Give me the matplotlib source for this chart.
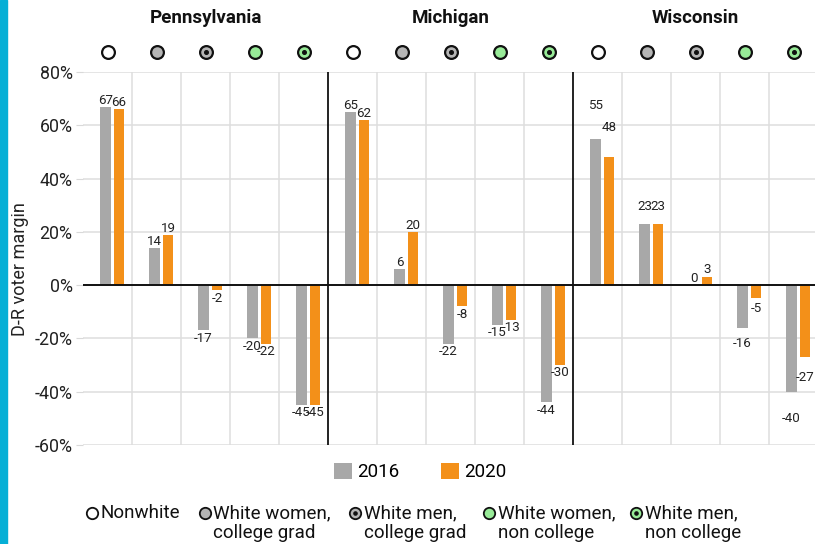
import matplotlib
matplotlib.use("Agg")
import matplotlib.pyplot as plt
import numpy as np
from matplotlib.patches import Rectangle

plt.rcParams['font.family'] = ['Roboto', 'DejaVu Sans']

# ---------------- data ----------------
states = ["Pennsylvania", "Michigan", "Wisconsin"]
groups = ["Nonwhite", "White women,\ncollege grad", "White men,\ncollege grad",
          "White women,\nnon college", "White men,\nnon college"]
years = ["2016", "2020"]
pa_2016 = [67, 14, -17, -20, -45]
pa_2020 = [66, 19, -2, -22, -45]
mi_2016 = [65, 6, -22, -15, -44]
mi_2020 = [62, 20, -8, -13, -30]
wi_2016 = [55, 23, 0, -16, -40]
wi_2020 = [48, 23, 3, -5, -27]
yticks = [-60, -40, -20, 0, 20, 40, 60, 80]

# ---------------- styles ----------------
c2016 = "#a8a8a8"
c2020 = "#f39019"
group_fill = ["white", "#b5b5b5", "#b5b5b5", "#98eb98", "#98eb98"]
group_dot = [False, False, True, False, True]
label_scale = [1.0, 1.0, 1.18]   # label anchor stretch per state panel

W, H = 815, 544
fig = plt.figure(figsize=(W / 100, H / 100), dpi=100)
L, R, T, B = 83, 818, 72, 445
ax = fig.add_axes([L / W, 1 - B / H, (R - L) / W, (B - T) / H])

v2016 = pa_2016 + mi_2016 + wi_2016
v2020 = pa_2020 + mi_2020 + wi_2020
n = len(v2016)
x = np.arange(n)
bw = 0.21
xg = x - 0.04
xo = x + 0.235
b1 = ax.bar(xg, v2016, width=bw, color=c2016, zorder=3, label=years[0])
b2 = ax.bar(xo, v2020, width=bw, color=c2020, zorder=3, label=years[1])

ax.set_xlim(-0.5, n - 0.5)
ax.set_ylim(-60, 80)
ax.set_yticks(yticks)
ax.set_yticklabels([f"{t}%" for t in yticks], fontsize=12.8, color="#222222")
ax.set_xticks([])
ax.tick_params(axis="y", length=5, color="#d9d9d9", pad=2.5)
for s in ax.spines.values():
    s.set_visible(False)

# grid
for t in yticks:
    ax.axhline(t, color="#dedede", lw=1.1, zorder=1)
for b in np.arange(0.5, n - 0.5, 1.0):
    if abs(b - 4.5) < 1e-6 or abs(b - 9.5) < 1e-6:
        ax.axvline(b, color="#111111", lw=1.3, zorder=4)
    else:
        ax.axvline(b, color="#dedede", lw=1.1, zorder=1)
ax.axhline(0, color="#111111", lw=1.4, zorder=4)

# value labels
for xs, vals in ((xg, v2016), (xo, v2020)):
    for i, (xx, v) in enumerate(zip(xs, vals)):
        sc = label_scale[i // 5]
        if v >= 0:
            ax.annotate(f"{v}", (xx, v * sc), xytext=(0, 0), textcoords="offset points",
                        ha="center", va="bottom", fontsize=9.6, color="#222222", zorder=5)
        else:
            ax.annotate(f"{v}", (xx, v * sc), xytext=(0, -1), textcoords="offset points",
                        ha="center", va="top", fontsize=9.6, color="#222222", zorder=5)

# top markers and state titles
tr = ax.get_xaxis_transform()
my = (B - 52) / (B - T)
for i in range(n):
    g = i % 5
    ax.plot([i], [my], marker="o", ms=9.2, mfc=group_fill[g], mec="#111111", mew=1.6,
            transform=tr, clip_on=False, zorder=6)
    if group_dot[g]:
        ax.plot([i], [my], marker="o", ms=2.6, mfc="#111111", mec="#111111",
                transform=tr, clip_on=False, zorder=7)
ty = (B - 18) / (B - T)
for k, st in enumerate(states):
    ax.text(5 * k + 2, ty, st, transform=tr, ha="center", va="center",
            fontsize=13.5, fontweight="bold", color="#111111")

# y label
fig.text(20 / W, 1 - 269 / H, "D-R voter margin", rotation=90, ha="center", va="center",
         fontsize=13, color="#222222")

# left blue strip
fig.patches.append(Rectangle((0, 0), 7 / W, 1, transform=fig.transFigure,
                             color="#05AFD6", zorder=0))

# year legend
fig.legend(handles=[b1, b2], labels=years, loc="center",
           bbox_to_anchor=(420 / W, 1 - 472 / H), ncol=2, frameon=False,
           fontsize=13.5, handlelength=1.0, handleheight=1.0, handletextpad=0.25,
           columnspacing=2.2)

# group legend (bottom)
ov = fig.add_axes([0, 0, 1, 1], facecolor="none")
ov.set_xlim(0, W)
ov.set_ylim(H, 0)
ov.axis("off")
mx = [92, 205, 355, 489, 636]
tx = [100, 213, 364, 498, 645]
for g, lab in enumerate(groups):
    ov.plot([mx[g]], [513], marker="o", ms=8.2, mfc=group_fill[g], mec="#111111", mew=1.3)
    if group_dot[g]:
        ov.plot([mx[g]], [513], marker="o", ms=2.3, mfc="#111111", mec="#111111")
    for j, line in enumerate(lab.split("\n")):
        ov.text(tx[g], 513 + 20 * j, line, ha="left", va="center", fontsize=13.5,
                color="#111111")

fig.savefig("out.png", dpi=100)
